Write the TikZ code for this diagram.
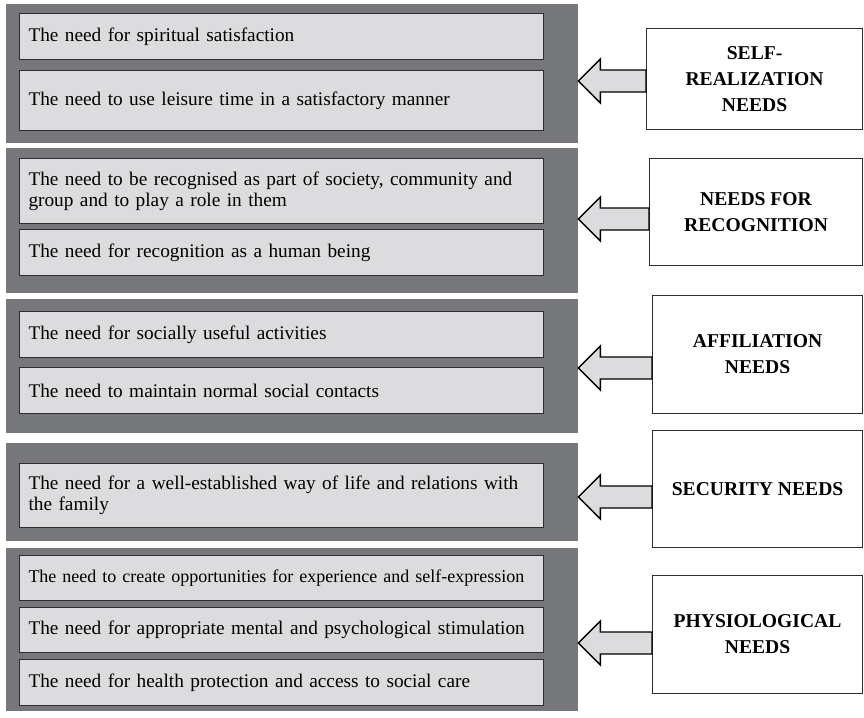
\documentclass[tikz,border=0pt]{standalone}
\usepackage{fontspec}
\setmainfont{Liberation Serif}
\usetikzlibrary{calc,positioning}
\definecolor{cbanda}{HTML}{76777B}
\definecolor{ccaja}{HTML}{DCDCDE}
\definecolor{cborde}{HTML}{2E2E2E}
\tikzset{
  banda/.style={fill=cbanda,draw=none,inner sep=0pt,anchor=north west,minimum width=572},
  caja/.style={draw=cborde,fill=ccaja,line width=1pt,anchor=north west,align=left,
               text width=506pt,inner xsep=9pt,inner ysep=0pt,
               font=\fontsize{19.3}{21}\selectfont},
  etiqueta/.style={draw=cborde,fill=white,line width=1.1pt,anchor=north west,align=center,
                   inner sep=0pt,font=\fontsize{19.6}{26}\selectfont\bfseries},
  flechab/.style={draw=black,fill=ccaja,line width=1.4pt,line join=miter},
}
\newcommand{\flechabloque}[2]{%
  \draw[flechab] (#1) -- ++(22,-22) -- ++(0,11) -- ($(#2.west |- #1)+(0,-11)$)
    -- ($(#2.west |- #1)+(0,11)$) -- ($(#1)+(22,11)$) -- ++(0,11) -- cycle;}
\begin{document}
\begin{tikzpicture}[x=1pt,y=-1pt]
\useasboundingbox[fill=white] (0,0) rectangle (864,717);

\node[banda,minimum height=139] (banda1) at (6,4) {};
\node[banda,minimum height=145] (banda2) at (6,148) {};
\node[banda,minimum height=134] (banda3) at (6,299) {};
\node[banda,minimum height=98]  (banda4) at (6,443) {};
\node[banda,minimum height=163] (banda5) at (6,548) {};

\node[caja,minimum height=46] (c11) at (19,13)  {The need for spiritual satisfaction};
\node[caja,minimum height=60] (c12) at (19,70)  {The need to use leisure time in a satisfactory manner};
\node[caja,minimum height=65] (c21) at (19,158) {The need to be recognised as part of society, community and\\group and to play a role in them};
\node[caja,minimum height=46] (c22) at (19,229) {The need for recognition as a human being};
\node[caja,minimum height=46] (c31) at (19,311) {The need for socially useful activities};
\node[caja,minimum height=46] (c32) at (19,367) {The need to maintain normal social contacts};
\node[caja,minimum height=64] (c41) at (19,463) {The need for a well-established way of life and relations with\\the family};
\node[caja,minimum height=45,font=\fontsize{18}{21}\selectfont] (c51) at (19,555)
  {The need to create opportunities for experience and self-expression};
\node[caja,minimum height=45] (c52) at (19,607) {The need for appropriate mental and psychological stimulation};
\node[caja,minimum height=46] (c53) at (19,659) {The need for health protection and access to social care};

\node[etiqueta,minimum width=216,minimum height=101] (lab1) at (646,28)  {SELF-\\REALIZATION\\NEEDS};
\node[etiqueta,minimum width=213,minimum height=107] (lab2) at (649,158) {NEEDS FOR\\RECOGNITION};
\node[etiqueta,minimum width=210,minimum height=118] (lab3) at (652,295) {AFFILIATION\\NEEDS};
\node[etiqueta,minimum width=210,minimum height=117] (lab4) at (652,430) {SECURITY NEEDS};
\node[etiqueta,minimum width=210,minimum height=118] (lab5) at (652,575) {PHYSIOLOGICAL\\NEEDS};

% puntas de las flechas, sobre el borde derecho de cada banda
\coordinate (p1) at (banda1.east |- 0,81);
\coordinate (p2) at (banda2.east |- 0,219);
\coordinate (p3) at (banda3.east |- 0,368);
\coordinate (p4) at (banda4.east |- 0,497);
\coordinate (p5) at (banda5.east |- 0,643);

\flechabloque{p1}{lab1}
\flechabloque{p2}{lab2}
\flechabloque{p3}{lab3}
\flechabloque{p4}{lab4}
\flechabloque{p5}{lab5}

\end{tikzpicture}
\end{document}
